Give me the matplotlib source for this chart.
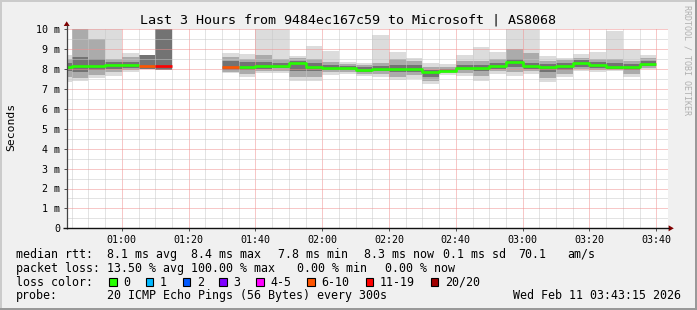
import numpy as np
import matplotlib
matplotlib.use("Agg")
import matplotlib.pyplot as plt
from matplotlib.patches import Rectangle, Polygon
from matplotlib.ticker import MultipleLocator, FixedLocator

# ---------------- data ----------------
title = "Last 3 Hours from 9484ec167c59 to Microsoft | AS8068"

interval_start = ["00:40", "00:45", "00:50", "00:55", "01:00", "01:05", "01:10", "01:15",
                  "01:20", "01:25", "01:30", "01:35", "01:40", "01:45", "01:50", "01:55",
                  "02:00", "02:05", "02:10", "02:15", "02:20", "02:25", "02:30", "02:35",
                  "02:40", "02:45", "02:50", "02:55", "03:00", "03:05", "03:10", "03:15",
                  "03:20", "03:25", "03:30", "03:35"]

nan = np.nan
# median rtt (ms)
median_rtt = [8.12, 8.17, 8.17, 8.22, 8.22, 8.15, 8.15, nan,
              nan, nan, 8.12, 8.12, 8.17, 8.17, 8.32, 8.10,
              8.04, 8.04, 7.96, 8.00, 8.00, 8.00, 7.84, 7.92,
              8.05, 8.05, 8.15, 8.37, 8.15, 8.10, 8.15, 8.32,
              8.20, 8.12, 8.12, 8.27]
# loss class of each interval
loss_class = ["0", "0", "0", "0", "0", "6-10", "11-19", None,
              None, None, "6-10", "0", "0", "0", "0", "0",
              "0", "0", "0", "0", "0", "0", "0", "0",
              "0", "0", "0", "0", "0", "0", "0", "0",
              "0", "0", "0", "0"]
# smoke: outer envelope (min/max ping)
smoke_outer_lo = [7.37, 7.42, 7.54, 7.65, 7.87, 8.00, 7.95, nan,
                  nan, nan, 7.80, 7.58, 7.79, 7.80, 7.40, 7.40,
                  7.70, 7.75, 7.65, 7.59, 7.45, 7.52, 7.23, 7.70,
                  7.65, 7.42, 7.75, 7.65, 7.75, 7.37, 7.60, 7.90,
                  7.85, 7.90, 7.60, 8.00]
smoke_outer_hi = [8.73, 10.0, 10.0, 10.0, 8.79, 8.73, 10.0, nan,
                  nan, nan, 8.80, 8.77, 10.0, 10.0, 8.66, 9.16,
                  8.90, 8.34, 8.32, 9.70, 8.86, 8.54, 8.32, 8.24,
                  8.73, 9.11, 8.86, 10.0, 10.0, 8.66, 8.58, 8.76,
                  8.86, 9.90, 9.00, 8.69]
# smoke: middle band
smoke_mid_lo = [7.60, 7.55, 7.70, 7.85, 7.95, 8.00, 7.95, nan,
                nan, nan, 7.85, 7.75, 7.90, 7.90, 7.60, 7.60,
                7.85, 7.85, 7.75, 7.75, 7.60, 7.70, 7.40, 7.80,
                7.80, 7.65, 7.90, 7.85, 7.90, 7.55, 7.75, 8.00,
                7.95, 7.95, 7.75, 8.05]
smoke_mid_hi = [8.50, 10.0, 9.50, 8.50, 8.60, 8.73, 10.0, nan,
                nan, nan, 8.60, 8.50, 8.70, 8.50, 8.55, 8.50,
                8.35, 8.25, 8.20, 8.30, 8.50, 8.40, 8.10, 8.10,
                8.40, 8.40, 8.50, 9.00, 8.80, 8.40, 8.45, 8.55,
                8.50, 8.50, 8.40, 8.55]
# smoke: inner (dense) band
smoke_in_lo = [7.90, 7.85, 7.95, 8.00, 8.05, 8.00, 7.95, nan,
               nan, nan, 7.95, 7.95, 8.00, 8.05, 7.90, 7.90,
               7.95, 7.95, 7.85, 7.90, 7.85, 7.85, 7.60, 7.85,
               7.95, 7.90, 8.00, 8.10, 8.00, 7.85, 7.95, 8.10,
               8.05, 8.00, 7.95, 8.15]
smoke_in_hi = [8.30, 8.60, 8.50, 8.35, 8.35, 8.73, 10.0, nan,
               nan, nan, 8.40, 8.35, 8.35, 8.30, 8.40, 8.30,
               8.20, 8.15, 8.10, 8.15, 8.20, 8.20, 7.95, 8.00,
               8.20, 8.20, 8.30, 8.50, 8.30, 8.25, 8.30, 8.45,
               8.35, 8.30, 8.25, 8.40]

loss_labels = ["0", "1", "2", "3", "4-5", "6-10", "11-19", "20/20"]
loss_colors = ["#26ff00", "#00b8ff", "#0059ff", "#7e00ff", "#ff00ff", "#ff5500", "#ff0000", "#a10000"]

x_tick_labels = ["01:00", "01:20", "01:40", "02:00", "02:20", "02:40", "03:00", "03:20", "03:40"]
y_tick_values = [0, 1, 2, 3, 4, 5, 6, 7, 8, 9, 10]
y_tick_labels = ["0", "1 m", "2 m", "3 m", "4 m", "5 m", "6 m", "7 m", "8 m", "9 m", "10 m"]

stats_rows = [
    ("median rtt:", [("8.1 ms avg", 107.3), ("8.4 ms max", 191.0), ("7.8 ms min", 278.0),
                     ("8.3 ms now", 364.0), ("0.1 ms sd", 443.0), ("70.1", 518.0), ("am/s", 567.0)]),
    ("packet loss:", [("13.50 % avg", 107.3), ("100.00 % max", 191.0), ("0.00 % min", 297.0),
                      ("0.00 % now", 385.0)]),
]
probe_text = "20 ICMP Echo Pings (56 Bytes) every 300s"
stamp_text = "Wed Feb 11 03:43:15 2026"

# ---------------- figure ----------------
W, H, DPI = 697, 310, 100
MONO = "DejaVu Sans Mono"
fig = plt.figure(figsize=(W / DPI, H / DPI), dpi=DPI, facecolor="#f0f0f0")

L, R, T, B = 66.7, 668.3, 29.3, 228.3
ax = fig.add_axes([L / W, 1 - B / H, (R - L) / W, (B - T) / H])
ax.set_facecolor("white")

def to_min(s):
    h, m = s.split(":")
    return int(h) * 60 + int(m)

xs = np.array([to_min(s) for s in interval_start], dtype=float)
step = 5.0
x0, x1 = 43.5, 223.6
ax.set_xlim(x0, x1)
ax.set_ylim(0, 10)

# smoke bands
bands = [(smoke_outer_lo, smoke_outer_hi, "#dcdcdc"),
         (smoke_mid_lo, smoke_mid_hi, "#ababab"),
         (smoke_in_lo, smoke_in_hi, "#737373")]
for lo, hi, c in bands:
    lo = np.array(lo); hi = np.array(hi)
    ax.bar(xs, hi - lo, bottom=lo, width=step, align="edge", color=c, linewidth=0, zorder=1)

# median lines by loss colour
med = np.array(median_rtt)
xe = np.append(xs, xs[-1] + step)
cmap = dict(zip(loss_labels, loss_colors))
for lab in loss_labels:
    mask = np.array([c == lab for c in loss_class])
    if not mask.any():
        continue
    y = np.where(mask, med, np.nan)
    ye = np.append(y, y[-1])
    ax.step(xe, ye, where="post", color=cmap[lab], lw=1.9, zorder=4, solid_capstyle="butt")

# grid / ticks
ax.xaxis.set_major_locator(FixedLocator([to_min(s) for s in x_tick_labels]))
ax.xaxis.set_minor_locator(MultipleLocator(5))
ax.yaxis.set_major_locator(FixedLocator(y_tick_values))
ax.yaxis.set_minor_locator(MultipleLocator(0.5))
ax.set_xticklabels(x_tick_labels)
ax.set_yticklabels(y_tick_labels)
ax.set_axisbelow(False)
ax.grid(which="minor", color="#c8c8c8", lw=0.72, linestyle=(0, (1, 1)), zorder=2)
ax.grid(which="major", color="#f09090", lw=0.72, linestyle=(0, (1, 1)), zorder=2)
ax.tick_params(which="major", length=2.2, width=0.72, color="#555555", direction="out",
               labelsize=7.2, pad=2.4)
ax.tick_params(which="minor", length=0)
for lbl in ax.get_xticklabels() + ax.get_yticklabels():
    lbl.set_family(MONO)
for s in ax.spines.values():
    s.set_visible(False)

# ---------------- overlay in pixel coords ----------------
ov = fig.add_axes([0, 0, 1, 1], zorder=10)
ov.set_xlim(0, W)
ov.set_ylim(H, 0)
ov.axis("off")
ov.patch.set_alpha(0)

# 3D frame
ov.add_patch(Rectangle((0, 0), W, 2, color="#cbcbcb", lw=0))
ov.add_patch(Rectangle((0, 0), 2, H, color="#cbcbcb", lw=0))
ov.add_patch(Rectangle((0, H - 2.5), W, 2.5, color="#999999", lw=0))
ov.add_patch(Rectangle((W - 2.5, 0), 2.5, H, color="#999999", lw=0))

# axes with arrows
ov.plot([L, L], [B + 0.5, 25.0], color="#444444", lw=0.9, solid_capstyle="butt")
ov.plot([63.0, 669.0], [B, B], color="#111111", lw=1.0, solid_capstyle="butt")
ov.add_patch(Polygon([[L, 21.3], [L - 3, 26.0], [L + 3, 26.0]], closed=True, color="#7f0000", lw=0))
ov.add_patch(Polygon([[673.8, B], [668.6, B - 3], [668.6, B + 3]], closed=True, color="#7f0000", lw=0))

# texts
ov.text(348.5, 23.3, title, family=MONO, fontsize=9.6, ha="center", va="baseline", color="black")
ov.text(11.5, (T + B) / 2 - 2, "Seconds", family=MONO, fontsize=8.2, rotation=90,
        ha="center", va="center", color="black")
ov.text(687.5, 5, "RRDTOOL / TOBI OETIKER", family=MONO, fontsize=6.0, rotation=-90,
        ha="center", va="top", color="#b0b0b0")

baselines = [257.7, 271.6, 285.6, 299.4]
fs = 8.4
for (head, parts), yb in zip(stats_rows, baselines[:2]):
    ov.text(16, yb, head, family=MONO, fontsize=fs, ha="left", va="baseline")
    for txt, xp in parts:
        ov.text(xp, yb, txt, family=MONO, fontsize=fs, ha="left", va="baseline")

ov.text(16, baselines[2], "loss color:", family=MONO, fontsize=fs, ha="left", va="baseline")
box_x = [109.0, 145.7, 182.7, 219.3, 256.0, 307.3, 365.7, 430.7]
for lab, col, bx in zip(loss_labels, loss_colors, box_x):
    ov.add_patch(Rectangle((bx, 277.6), 7.5, 8.0, facecolor=col, edgecolor="black", lw=0.8))
    ov.text(bx + 14.0, baselines[2], lab, family=MONO, fontsize=fs, ha="left", va="baseline")

ov.text(16, baselines[3], "probe:", family=MONO, fontsize=fs, ha="left", va="baseline")
ov.text(107.3, baselines[3], probe_text, family=MONO, fontsize=fs, ha="left", va="baseline")
ov.text(513.3, baselines[3], stamp_text, family=MONO, fontsize=fs, ha="left", va="baseline")

fig.savefig("out.png", dpi=DPI, facecolor=fig.get_facecolor())
